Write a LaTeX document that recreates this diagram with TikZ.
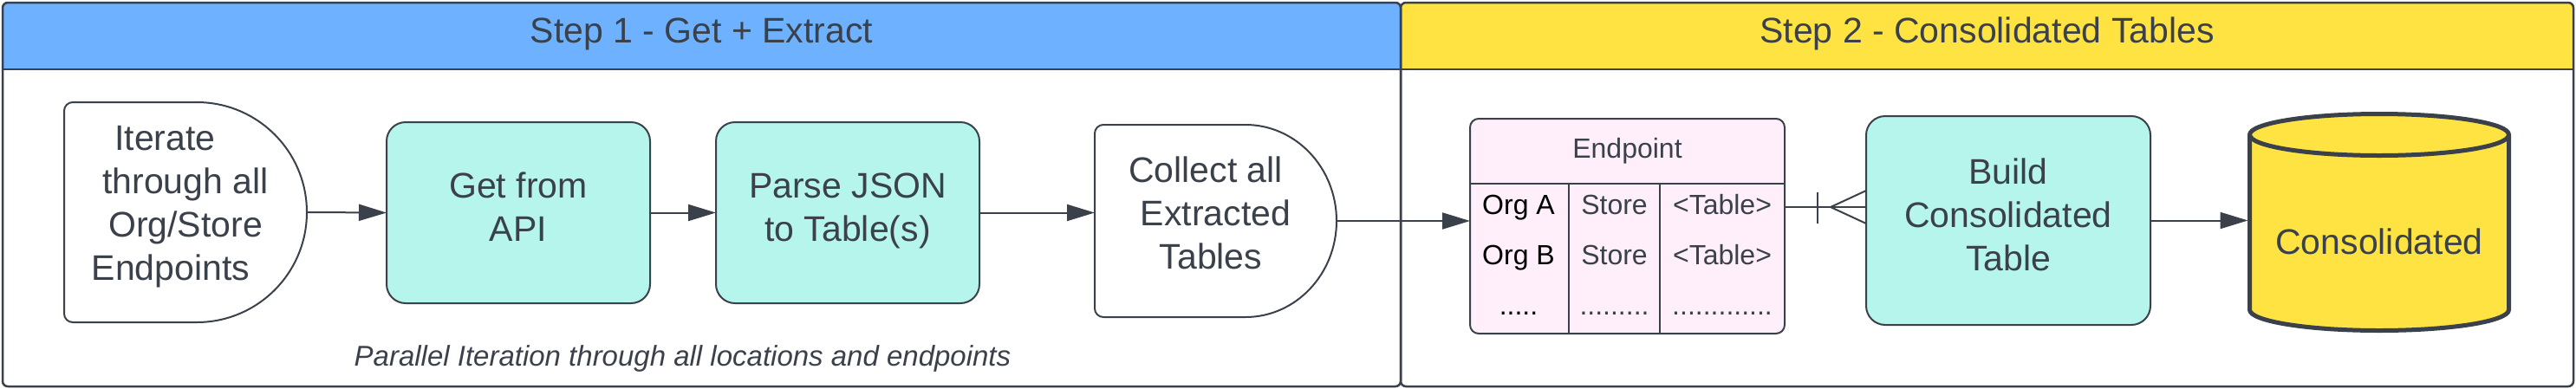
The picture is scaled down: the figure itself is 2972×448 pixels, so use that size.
\documentclass[tikz,border=0pt]{standalone}
\usepackage{fontspec}
\setmainfont{Liberation Sans}
\usetikzlibrary{arrows.meta,calc}
\definecolor{ink}{HTML}{3A414A}
\definecolor{hdrblue}{HTML}{6DB1FF}
\definecolor{hdryellow}{HTML}{FFE342}
\definecolor{procteal}{HTML}{B5F5EC}
\definecolor{tblpink}{HTML}{FFEFFA}
\newcommand\fbig{\fontsize{41}{50}\selectfont}
\newcommand\ftbl{\fontsize{32}{38}\selectfont}
\newcommand\fnote{\fontsize{33}{40}\selectfont}
\tikzset{
  cont/.style={draw=ink, line width=2.5pt},
  shp/.style={draw=ink, line width=2pt, fill=white},
  blank/.style={inner sep=0pt, outer sep=0pt},
  proc/.style={draw=ink, line width=2pt, fill=procteal, rounded corners=22pt, inner sep=0pt, outer sep=0pt},
  tblbox/.style={draw=ink, line width=2pt, fill=tblpink, rounded corners=10pt, inner sep=0pt, outer sep=0pt},
  ln/.style={draw=ink, line width=2pt},
  arr/.style={draw=ink, line width=2pt, -{Triangle[length=32pt,width=19pt]}},
  txt/.style={text=ink, font=\fbig, align=center, inner sep=0pt, anchor=base},
  title/.style={text=ink, font=\fbig, inner sep=0pt, anchor=base},
  cell/.style={text=ink, font=\ftbl, inner sep=0pt, anchor=base},
  note/.style={text=ink, font=\fnote\itshape, inner sep=0pt, anchor=base},
}
\begin{document}
\begin{tikzpicture}[x=1pt,y=-1pt]
\useasboundingbox (0,0) rectangle (2972,448);

% ---- containers ----
\begin{scope}
  \clip[rounded corners=6pt] (3,3) rectangle (1616,446);
  \fill[hdrblue] (3,3) rectangle (1616,80);
\end{scope}
\begin{scope}
  \clip[rounded corners=6pt] (1616,3) rectangle (2969,446);
  \fill[hdryellow] (1616,3) rectangle (2969,80);
\end{scope}
\draw[cont] (3,80) -- (2969,80);
\draw[cont, rounded corners=6pt] (3,3) rectangle (1616,446);
\draw[cont, rounded corners=6pt] (1616,3) rectangle (2969,446);
\node[title] (t1) at (809.5,49) {Step 1 - Get + Extract};
\node[title] (t2) at (2292.5,49) {Step 2 - Consolidated Tables};

% ---- node 1 (delay shape) ----
\node[blank, minimum width=280pt, minimum height=254pt] (n1) at (214,245) {};
\draw[shp] ($(n1.south east)+(-127pt,0)$) arc[start angle=-90,end angle=90,x radius=127pt,y radius=127pt]
  -- ($(n1.north west)+(10pt,0)$) arc[start angle=90,end angle=180,radius=10pt]
  -- ($(n1.south west)+(0,10pt)$) arc[start angle=180,end angle=270,radius=10pt] -- cycle;
\node[txt] (n1t) at (214,323) {Iterate\hspace*{47pt}\\through all\\Org/Store\\Endpoints\hspace*{34pt}};

% ---- node 2, 3 ----
\node[proc, minimum width=304pt, minimum height=209pt] (n2) at (598,245.5) {};
\node[txt] (n2t) at (598,278) {Get from\\API};
\node[proc, minimum width=304pt, minimum height=209pt] (n3) at (978,245.5) {};
\node[txt] (n3t) at (978,278) {Parse JSON\\to Table(s)};

% ---- node 4 (delay shape) ----
\node[blank, minimum width=279pt, minimum height=222pt] (n4) at (1402.5,255) {};
\draw[shp] ($(n4.south east)+(-105pt,0)$) arc[start angle=-90,end angle=90,x radius=105pt,y radius=111pt]
  -- ($(n4.north west)+(10pt,0)$) arc[start angle=90,end angle=180,radius=10pt]
  -- ($(n4.south west)+(0,10pt)$) arc[start angle=180,end angle=270,radius=10pt] -- cycle;
\node[txt] (n4t) at (1402.5,310) {Collect all\hspace*{23pt}\\Extracted\\Tables\hspace*{11pt}};

% ---- table ----
\node[tblbox, minimum width=363pt, minimum height=248pt] (tbl) at (1877.5,261) {};
\draw[ln] (1696,212) -- (2059,212);
\draw[ln] (1810,212) -- (1810,385);
\draw[ln] (1915,212) -- (1915,385);
\node[cell] (th) at (1877.5,182) {Endpoint};
\node[cell, text=black] (r1a) at (1752,247) {Org A};
\node[cell] (r1b) at (1862.5,247) {Store};
\node[cell] (r1c) at (1987,247) {<Table>};
\node[cell, text=black] (r2a) at (1752,305) {Org B};
\node[cell] (r2b) at (1862.5,305) {Store};
\node[cell] (r2c) at (1987,305) {<Table>};
\node[cell, text=black] (r3a) at (1752,363) {.....};
\node[cell] (r3b) at (1862.5,363) {.........};
\node[cell] (r3c) at (1987,363) {.............};

% ---- build ----
\node[proc, minimum width=328pt, minimum height=241pt] (bld) at (2317,254.5) {};
\node[txt] (bldt) at (2317,312) {Build\\Consolidated\\Table};

% ---- cylinder ----
\node[blank, minimum width=299pt, minimum height=250pt] (cyl) at (2745,256.5) {};
\draw[draw=ink, line width=5pt, fill=hdryellow, line join=round]
  ($(cyl.north west)+(0,-24pt)$) -- ($(cyl.south west)+(0,24pt)$)
  arc[start angle=180,end angle=360,x radius=149.5pt,y radius=24pt]
  -- ($(cyl.north east)+(0,-24pt)$)
  arc[start angle=0,end angle=180,x radius=149.5pt,y radius=24pt] -- cycle;
\draw[draw=ink, line width=5pt] ($(cyl.north west)+(0,-24pt)$)
  arc[start angle=180,end angle=360,x radius=149.5pt,y radius=24pt];
\node[txt] (cylt) at (2745,293) {Consolidated};

% ---- connectors ----
\draw[arr] (n1.east) -- (n2.west);
\draw[arr] (n2.east) -- (n3.west);
\draw[arr] (n3.east) -- (n3.east -| n4.west);
\draw[arr] (n4.east) -- (n4.east -| tbl.west);
\coordinate (c1) at ($(tbl.east)+(0,22pt)$);
\draw[ln] (c1) -- (c1 -| bld.west);
\draw[ln] ($(c1)+(38pt,17pt)$) -- ($(c1)+(38pt,-19pt)$);
\draw[ln] ($(c1 -| bld.west)+(0,19pt)$) -- ($(c1)+(53pt,0)$) -- ($(c1 -| bld.west)+(0,-19pt)$);
\draw[arr, shorten >=2pt] (bld.east) -- (bld.east -| cyl.west);

% ---- note ----
\node[note] (nt) at (787.5,422) {Parallel Iteration through all locations and endpoints};
\end{tikzpicture}
\end{document}
